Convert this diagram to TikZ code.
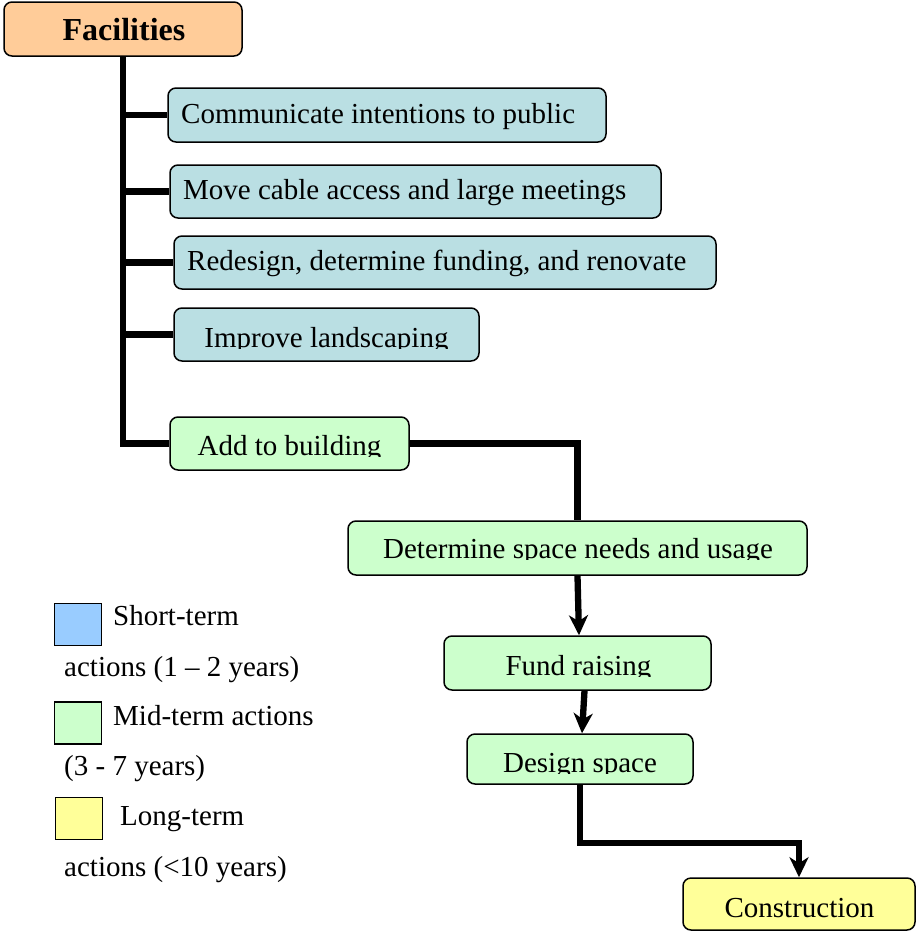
\documentclass[tikz,border=0pt]{standalone}
\usepackage{fontspec}
\setmainfont{Liberation Serif}
\usetikzlibrary{arrows.meta}
\definecolor{facfill}{RGB}{255,204,153}
\definecolor{shortfill}{RGB}{186,223,227}
\definecolor{midfill}{RGB}{204,255,204}
\definecolor{longfill}{RGB}{255,255,153}
\definecolor{legblue}{RGB}{153,204,255}
\tikzset{
  box/.style={draw=black, line width=1.5pt, rounded corners=8pt, inner sep=0pt},
  lbl/.style={inner sep=0pt, font=\fontsize{29}{34}\selectfont},
  conn/.style={line width=6.3pt, line cap=butt},
  arr/.style={conn, -{Stealth[length=20pt,width=19pt,inset=6pt]}},
  legsq/.style={draw=black, line width=1.5pt, inner sep=0pt, minimum width=47pt, minimum height=42pt}
}
\begin{document}
\begin{tikzpicture}[x=1pt,y=-1pt]
\useasboundingbox (0,0) rectangle (917,932);
% boxes
\node[box, fill=facfill, minimum width=238pt, minimum height=54pt] (fac) at (123,29) {};
\node[box, fill=shortfill, minimum width=438pt, minimum height=54pt] (comm) at (387,115) {};
\node[box, fill=shortfill, minimum width=491pt, minimum height=53pt] (move) at (415.5,191.5) {};
\node[box, fill=shortfill, minimum width=542pt, minimum height=53pt] (redes) at (445,262.5) {};
\node[box, fill=shortfill, minimum width=305pt, minimum height=53pt] (land) at (326.5,334.5) {};
\node[box, fill=midfill, minimum width=239pt, minimum height=53pt] (add) at (289.5,443.5) {};
\node[box, fill=midfill, minimum width=459pt, minimum height=54pt] (det) at (577.5,548) {};
\node[box, fill=midfill, minimum width=267pt, minimum height=54pt] (fund) at (577.5,663) {};
\node[box, fill=midfill, minimum width=226pt, minimum height=50pt] (design) at (580,759) {};
\node[box, fill=longfill, minimum width=232pt, minimum height=52pt] (cons) at (799,904) {};
% labels
\node[lbl, anchor=base, font=\fontsize{32}{36}\selectfont\bfseries] (tfac) at (124,40) {Facilities};
\node[lbl, anchor=base west] (tcomm) at (181,123) {Communicate intentions to public};
\node[lbl, anchor=base west] (tmove) at (183,199) {Move cable access and large meetings};
\node[lbl, anchor=base west] (tredes) at (187,270) {Redesign, determine funding, and renovate};
\begin{scope}
  \clip (174,300) rectangle (479,348.5);
  \node[lbl, anchor=base] (tland) at (326.5,347) {Improve landscaping};
\end{scope}
\begin{scope}
  \clip (170,410) rectangle (409,456.5);
  \node[lbl, anchor=base] (tadd) at (289.5,455) {Add to building};
\end{scope}
\begin{scope}
  \clip (348,515) rectangle (807,559.5);
  \node[lbl, anchor=base] (tdet) at (578,558) {Determine space needs and usage};
\end{scope}
\begin{scope}
  \clip (444,630) rectangle (711,676.5);
  \node[lbl, anchor=base] (tfund) at (578.5,675) {Fund raising};
\end{scope}
\begin{scope}
  \clip (467,728) rectangle (693,773.5);
  \node[lbl, anchor=base] (tdesign) at (580,772) {Design space};
\end{scope}
\node[lbl, anchor=base] (tcons) at (799.5,917) {Construction};
% connectors
\draw[conn] (fac.south) |- (add.west);
\draw[conn] (fac.south |- comm.west) -- (comm.west);
\draw[conn] (fac.south |- move.west) -- (move.west);
\draw[conn] (fac.south |- redes.west) -- (redes.west);
\draw[conn] (fac.south |- land.west) -- (land.west);
\draw[conn] (add.east) -| (det.north);
\draw[arr] (det.south) -- ([xshift=1.5pt]fund.north);
\draw[arr] ([xshift=7pt]fund.south) -- ([xshift=2pt]design.north);
\draw[arr] (design.south) -- ++(0,58) -| (cons.north);
% legend
\node[legsq, fill=legblue] (lq1) at (78,624.5) {};
\node[legsq, fill=midfill] (lq2) at (78,723) {};
\node[legsq, fill=longfill] (lq3) at (79,818.5) {};
\node[lbl, anchor=base west] (l1a) at (113,625) {Short-term};
\node[lbl, anchor=base west] (l1b) at (64,676) {actions (1 – 2 years)};
\node[lbl, anchor=base west] (l2a) at (113,725) {Mid-term actions};
\node[lbl, anchor=base west] (l2b) at (64,775) {(3 - 7 years)};
\node[lbl, anchor=base west] (l3a) at (120,825) {Long-term};
\node[lbl, anchor=base west] (l3b) at (64,876) {actions (<10 years)};
\end{tikzpicture}
\end{document}
